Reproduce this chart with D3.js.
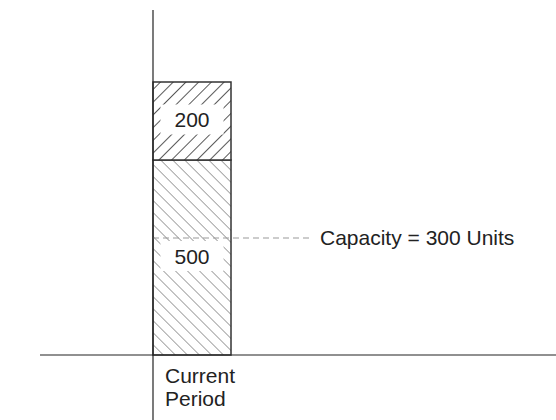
<!DOCTYPE html>
<html>
<head>
<meta charset="utf-8">
<script src="https://cdn.jsdelivr.net/npm/d3@7"></script>
<style>
  html, body { margin: 0; padding: 0; background: #fff; }
  svg { display: block; }
  text { font-family: "Liberation Sans", Arial, Helvetica, sans-serif; fill: #222; }
</style>
</head>
<body>
<svg id="chart" width="556" height="420"></svg>
<script>
// Stacked load for the current period
const categories = ["Current Period"];
const segmentNames = ["Current load", "Additional load"];
const segmentValues = [500, 200];
const capacityValue = 300;
const capacityLabel = "Capacity = 300 Units";

const W = 556, H = 420;
const axisX = 153, baseY = 355;
const svg = d3.select("#chart");

const y = d3.scaleLinear().domain([0, 700]).range([baseY, 82]);
const x = d3.scaleBand().domain(categories).range([axisX, axisX + 78]).padding(0);

// Hatch patterns
const defs = svg.append("defs");
function hatch(id, angle, gap, color, w) {
  const p = defs.append("pattern")
    .attr("id", id).attr("patternUnits", "userSpaceOnUse")
    .attr("width", gap).attr("height", gap)
    .attr("patternTransform", `rotate(${angle})`);
  p.append("rect").attr("width", gap).attr("height", gap).attr("fill", "#fff");
  p.append("line").attr("x1", 0).attr("y1", 0).attr("x2", 0).attr("y2", gap)
    .attr("stroke", color).attr("stroke-width", w);
}
hatch("hatchLight", -45, 8.5, "#8f8f8f", 1.6);
hatch("hatchDark", 45, 9, "#2e2e2e", 1.6);
const fills = ["url(#hatchLight)", "url(#hatchDark)"];

// Stack segments
const stack = [];
let acc = 0;
segmentValues.forEach((v, i) => { stack.push({ name: segmentNames[i], v, y0: acc, y1: acc + v, i }); acc += v; });

const bars = svg.append("g");
bars.selectAll("rect").data(stack).join("rect")
  .attr("x", x(categories[0]))
  .attr("width", x.bandwidth())
  .attr("y", d => y(d.y1))
  .attr("height", d => y(d.y0) - y(d.y1))
  .attr("fill", (d, i) => fills[i])
  .attr("stroke", "#333").attr("stroke-width", 1.5);

// Capacity line
const capY = y(capacityValue);
svg.append("line")
  .attr("x1", axisX).attr("x2", 310)
  .attr("y1", capY).attr("y2", capY)
  .attr("stroke", "#999").attr("stroke-width", 1)
  .attr("stroke-dasharray", "6,4");
svg.append("text")
  .attr("x", 320).attr("y", capY + 7)
  .attr("font-size", 21)
  .text(capacityLabel);

// Value labels with white backing boxes
const cx = x(categories[0]) + x.bandwidth() / 2;
const labelG = svg.append("g");
stack.forEach(d => {
  const my = y((d.y0 + d.y1) / 2) - 1.5;
  const g = labelG.append("g");
  const t = g.append("text")
    .attr("x", cx).attr("y", my + 7.5)
    .attr("text-anchor", "middle")
    .attr("font-size", 21)
    .text(d.v);
  const bb = t.node().getBBox();
  g.insert("rect", "text")
    .attr("x", bb.x - 14).attr("y", bb.y - 3.5)
    .attr("width", bb.width + 28).attr("height", bb.height + 7)
    .attr("fill", "#fff");
});

// Axes
svg.append("line").attr("x1", axisX).attr("x2", axisX).attr("y1", 10).attr("y2", H)
  .attr("stroke", "#222").attr("stroke-width", 1.2);
svg.append("line").attr("x1", 40).attr("x2", W).attr("y1", baseY).attr("y2", baseY)
  .attr("stroke", "#222").attr("stroke-width", 1.2);

// Category label
const words = categories[0].split(" ");
const cat = svg.append("text").attr("x", 165).attr("y", 383).attr("font-size", 21);
words.forEach((w, i) => cat.append("tspan").attr("x", 165).attr("dy", i === 0 ? 0 : 22.5).text(w));
</script>
</body>
</html>
